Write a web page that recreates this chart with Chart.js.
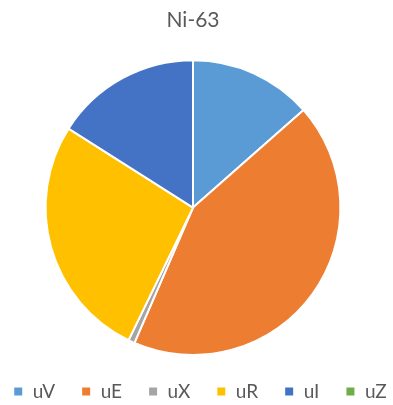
<!DOCTYPE html>
<html>
<head>
<meta charset="utf-8">
<script src="https://cdn.jsdelivr.net/npm/chart.js@4"></script>
<style>
  html, body { margin: 0; padding: 0; background: #fff; }
  #wrap { width: 393px; height: 405px; }
</style>
</head>
<body>
<div id="wrap"><canvas id="chart" width="393" height="405"></canvas></div>
<script>
const title = 'Ni-63';
const labels = ['uV', 'uE', 'uX', 'uR', 'uI', 'uZ'];
const values = [13.5, 43.0, 0.7, 26.8, 16.0, 0];
const colors = ['#5B9BD5', '#ED7D31', '#A5A5A5', '#FFC000', '#4472C4', '#70AD47'];

const textColor = '#595959';
const fontFamily = 'Lato, "Open Sans", sans-serif';

// keep the legend on one row with wide gaps, and nudge it a bit to the right
const legendTweaks = {
  id: 'legendTweaks',
  beforeLayout(chart) {
    const legend = chart.legend;
    if (!legend || legend._patched) return;
    const fit = legend.fit;
    legend.fit = function () {
      const maxWidth = this.maxWidth;
      this.maxWidth = maxWidth + 80;
      fit.call(this);
      this.maxWidth = maxWidth;
      this.width = Math.min(this.width, maxWidth);
      this.height -= 6;
    };
    legend._patched = true;
  },
  afterLayout(chart) {
    // widen the box on both sides so nothing wraps, centre moves 7px right
    chart.legend.left += 7 - 60;
    chart.legend.right += 7 + 60;
  }
};

const ctx = document.getElementById('chart').getContext('2d');
const pieChart = new Chart(ctx, {
  type: 'pie',
  data: {
    labels: labels,
    datasets: [{
      data: values,
      backgroundColor: colors,
      borderColor: '#ffffff',
      borderWidth: 2
    }]
  },
  options: {
    responsive: false,
    animation: false,
    layout: { padding: { top: 0, bottom: 0, left: 0, right: 7 } },
    plugins: {
      title: {
        display: true,
        text: title,
        color: textColor,
        font: { family: fontFamily, size: 21, weight: 'normal' },
        padding: { top: 8, bottom: 26 }
      },
      legend: {
        position: 'bottom',
        labels: {
          color: textColor,
          font: { family: fontFamily, size: 19 },
          boxWidth: 10,
          boxHeight: 10,
          padding: 26
        }
      },
      tooltip: { enabled: false }
    }
  },
  plugins: [legendTweaks]
});
</script>
</body>
</html>
